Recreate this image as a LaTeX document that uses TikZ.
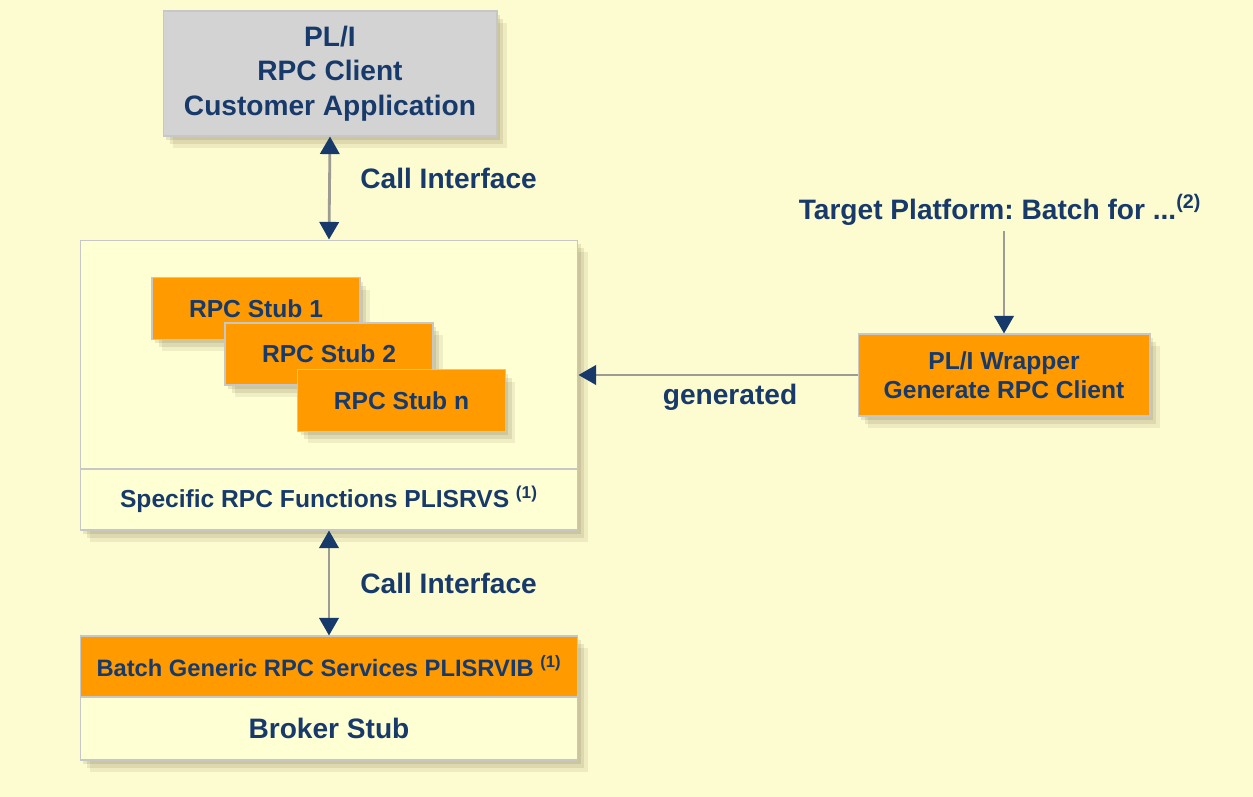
\documentclass[tikz,border=0pt]{standalone}
\usepackage{fontspec}
\setmainfont{Liberation Sans}
\frenchspacing
\usetikzlibrary{arrows.meta,shadows}
\begin{document}
\begin{tikzpicture}[x=0.02cm,y=-0.02cm]
\definecolor{fond}{HTML}{FDFCD0}
\definecolor{clair}{HTML}{FFFFD4}
\definecolor{gris}{HTML}{D3D3D3}
\definecolor{orangeb}{HTML}{FF9A00}
\definecolor{marine}{HTML}{173A6B}
\definecolor{trait}{HTML}{9C9C94}
\definecolor{ombre}{HTML}{6B5A3A}
\tikzset{pointe/.tip = {Triangle[color=marine,width=11pt,length=10pt]},
         ombrage/.style = {drop shadow = {shadow xshift=0.06cm, shadow yshift=-0.08cm,
                                          opacity=0.14, fill=ombre},
                           drop shadow = {shadow xshift=0.13cm, shadow yshift=-0.16cm,
                                          opacity=0.13, fill=ombre},
                           drop shadow = {shadow xshift=0.20cm, shadow yshift=-0.24cm,
                                          opacity=0.10, fill=ombre}},
         bloc/.style = {draw=black!22,
                        line width   = 0.6pt,
                        inner sep    = 0pt,
                        text         = marine,
                        align        = center,
                        font         = \bfseries\fontsize{14}{16.5}\selectfont,
                        ombrage},
         souche/.style = {bloc, fill=orangeb,
                          minimum width  = 4.16cm,
                          minimum height = 1.24cm},
         etiq/.style = {text=marine, inner sep=0pt,
                        font=\bfseries\fontsize{16}{19}\selectfont},
         texte/.style = {text=marine, inner sep=0pt,
                         font=\bfseries\fontsize{14}{16.5}\selectfont},
         fleche/.style = {draw=trait, line width=1.6pt, -pointe},
         double/.style = {draw=trait, line width=1.6pt, pointe-pointe}}
\fill[fond] (0,0) rectangle (1253,797);
\coordinate (div) at (0,469);
% client
\node[bloc, fill=gris, minimum width=6.68cm, minimum height=2.5cm,
      font=\bfseries\fontsize{16}{19.5}\selectfont] (client) at (330,73.5)
      {PL/I\\RPC Client\\Customer Application};
% specific functions with stubs
\node[bloc, fill=clair, minimum width=9.96cm, minimum height=5.8cm] (main) at (329,385) {};
\draw[draw=black!22, line width=0.6pt] (main.west |- div) -- (main.east |- div);
\node[texte] (specific) at (329,499) {Specific RPC Functions PLISRVS \textsuperscript{(1)}};
\node[souche] (stub1) at (256,308.5) {RPC Stub 1};
\node[souche] (stub2) at (329,354) {RPC Stub 2};
\node[souche] (stubn) at (401.5,400.5) {RPC Stub n};
% wrapper
\node[etiq] (cible) at (1000,210) {Target Platform: Batch for ...\textsuperscript{(2)}};
\node[bloc, fill=orangeb, minimum width=5.84cm, minimum height=1.64cm] (wrapper) at (1004,375)
      {PL/I Wrapper\\Generate RPC Client};
% generic services and broker stub
\node[bloc, fill=orangeb, minimum width=9.96cm, minimum height=1.22cm,
      font=\bfseries\fontsize{13.5}{16}\selectfont] (generic) at (329,666.5)
      {Batch Generic RPC Services PLISRVIB \textsuperscript{(1)}};
\node[bloc, fill=clair, minimum width=9.96cm, minimum height=1.26cm,
      font=\bfseries\fontsize{16}{19}\selectfont] (broker) at (329,728.5) {Broker Stub};
% connectors
\draw[double] (client.south) -- (main.north);
\draw[double] (main.south) -- (generic.north);
\draw[fleche, shorten <=3pt] (cible.south -| wrapper.north) -- (wrapper.north);
\draw[fleche] (wrapper.west) -- (wrapper.west -| main.east);
\node[etiq, anchor=west] (call1) at (360,178) {Call Interface};
\node[etiq, anchor=west] (call2) at (360,583) {Call Interface};
\node[etiq] (gen) at (730,397) {generated};
\end{tikzpicture}
\end{document}
